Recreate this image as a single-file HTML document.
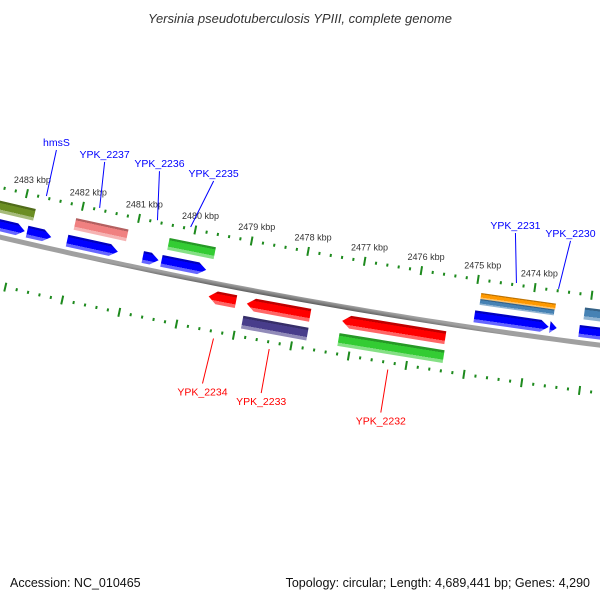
<!DOCTYPE html>
<html><head><meta charset="utf-8"><style>
html,body{margin:0;padding:0;background:#fff}
svg{display:block}
text{font-family:"Liberation Sans","DejaVu Sans",sans-serif}
</style></head><body>
<svg id="chart" width="600" height="600" viewBox="0 0 600 600" xmlns="http://www.w3.org/2000/svg">
<rect width="600" height="600" fill="#fff"/>
<defs id="defs"></defs>
<text x="300" y="23" text-anchor="middle" font-size="13" font-style="italic" fill="#333">Yersinia pseudotuberculosis YPIII, complete genome</text>
<g id="plot"></g>
<text x="10" y="587" font-size="12.5" fill="#111">Accession: NC_010465</text>
<text x="590" y="587" font-size="12.5" fill="#111" text-anchor="end">Topology: circular; Length: 4,689,441 bp; Genes: 4,290</text>
</svg>
<script>
// ---- data ----
const tickStartKbp = 2484;
const tickEndKbp = 2472;
const majorTickLabels = [2483,2482,2481,2480,2479,2478,2477,2476,2475,2474];
// features: start kbp (left/higher), end kbp (right/lower)
const featStart = [2483.63,2482.85,2482.14,2480.80,2480.47,2474.97,2473.65,2473.14, 2483.63,2482.07,2480.41,2474.91,2474.91,2473.09, 2479.55,2478.88,2477.21, 2478.90,2477.22];
const featEnd   = [2482.89,2482.42,2481.24,2480.52,2479.68,2473.67,2473.53,2472.50, 2482.79,2481.14,2479.59,2473.60,2473.61,2472.40, 2479.07,2477.77,2475.41, 2477.76,2475.39];
const featTrack = ['fb','fb','fb','fb','fb','fb','fb','fb', 'fc','fc','fc','fcTop','fcBot','fc', 'rr','rr','rr', 'rc','rc'];
const featArrow = ['R','R','R','R','R','R','R','R', 'N','N','N','N','N','N', 'L','L','L', 'N','N'];
const featColor = ['#0000ff','#0000ff','#0000ff','#0000ff','#0000ff','#0000ff','#0000ff','#0000ff','#6b8e23','#f08080','#33cc33','#ff9900','#4682b4','#4682b4','#ff0000','#ff0000','#ff0000','#483d8b','#33cc33'];
const labelText = ['hmsS','YPK_2237','YPK_2236','YPK_2235','YPK_2231','YPK_2230','YPK_2234','YPK_2233','YPK_2232'];
const labelKbp  = [2482.66,2481.71,2480.68,2480.09,2474.33,2473.59,2479.33,2478.36,2476.30];
const labelSide = ['up','up','up','up','up','up','down','down','down'];
// layout (pixels) for label leader lines
const labelDx = [10,5,2,23,-1,12,-11,-8,-7];
const labelDy = [-46,-46,-49,-46,-50,-48,45,44,43];

// ---- geometry ----
const CX=1334, CY=-5449, R=5840;
function theta(k){return (97.93+(k-2474)*0.568)*Math.PI/180;}
function pt(k,off){const r=R-off,a=theta(k);return [CX+r*Math.cos(a),CY+r*Math.sin(a)];}
const tracks={fb:[5,17],fc:[23,35],fcTop:[29,35],fcBot:[23,29],rr:[-21,-8],rc:[-40,-27]};
const NS='http://www.w3.org/2000/svg';
const plot=document.getElementById('plot');
const defs=document.getElementById('defs');
function mk(tag,attrs,parent){const e=document.createElementNS(NS,tag);for(const a in attrs)e.setAttribute(a,attrs[a]);(parent||plot).appendChild(e);return e;}
function P(p){return p[0].toFixed(2)+','+p[1].toFixed(2);}
function shade(hex,f){let n=parseInt(hex.slice(1),16);let r=n>>16,g=(n>>8)&255,b=n&255;
 if(f<0){r*=1+f;g*=1+f;b*=1+f;}else{r+=(255-r)*f;g+=(255-g)*f;b+=(255-b)*f;}
 return 'rgb('+Math.round(r)+','+Math.round(g)+','+Math.round(b)+')';}

// backbone
(function(){
 const top=[],bot=[];
 for(let k=tickStartKbp;k>=tickEndKbp;k-=0.25){top.push(P(pt(k,2)));bot.unshift(P(pt(k,-3)));}
 const g=mk('linearGradient',{id:'bbg',gradientUnits:'userSpaceOnUse',x1:pt(2478,2)[0],y1:pt(2478,2)[1],x2:pt(2478,-3)[0],y2:pt(2478,-3)[1]},defs);
 mk('stop',{offset:'0',  'stop-color':'#a0a0a0'},g);
 mk('stop',{offset:'0.5','stop-color':'#808080'},g);
 mk('stop',{offset:'1','stop-color':'#5a5a5a'},g);
 const bb=mk('polygon',{points:top.concat(bot).join(' '),fill:'url(#bbg)'});
 
 
})();

// tick rings
function ring(off,withLabels,name){
 const g=mk('g',{});
 
 
 for(let i=0;i<=(tickStartKbp-tickEndKbp)*5;i++){
  const k=tickStartKbp-i*0.2;
  const major=(i%5===0);
  const h=major?4.5:1.5;
  const a=pt(k,off-h),b=pt(k,off+h);
  const t=mk('line',{x1:a[0],y1:a[1],x2:b[0],y2:b[1],stroke:'#1d8a1d','stroke-width':2},g);
  
  
 }
 if(withLabels){
  majorTickLabels.forEach(k=>{
   const p=pt(k,off+11);
   const tx=mk('text',{x:p[0]+3,y:p[1],'text-anchor':'middle','font-size':'9',fill:'#333'},g);
   tx.textContent=k+' kbp';
   
   
  });
 }
}
ring(48,true,'outer-tick-ring');
ring(-48,false,'inner-tick-ring');

// features
const HEAD=0.14;
featStart.forEach((ks,i)=>{
 const ke=featEnd[i];
 const [o1,o2]=tracks[featTrack[i]];
 const om=(o1+o2)/2;
 let pts;
 const arr=featArrow[i];
 if(arr==='R'){
  const s=Math.min(ke+HEAD,ks);
  pts=[pt(ks,o2),pt(s,o2),pt(ke,om),pt(s,o1),pt(ks,o1)];
 }else if(arr==='L'){
  const s=Math.max(ks-HEAD,ke);
  pts=[pt(ks,om),pt(s,o2),pt(ke,o2),pt(ke,o1),pt(s,o1)];
 }else{
  pts=[pt(ks,o2),pt(ke,o2),pt(ke,o1),pt(ks,o1)];
 }
 const km=(ks+ke)/2,a=pt(km,o2),b=pt(km,o1);
 const id='fg'+i;
 const g=mk('linearGradient',{id:id,gradientUnits:'userSpaceOnUse',x1:a[0],y1:a[1],x2:b[0],y2:b[1]},defs);
 const c=featColor[i];
 [['0',shade(c,-0.25)],['0.18',shade(c,-0.25)],['0.18',c],['0.72',c],['0.72',shade(c,0.4)],['1',shade(c,0.4)]].forEach(s=>mk('stop',{offset:s[0],'stop-color':s[1]},g));
 const f=mk('polygon',{points:pts.map(P).join(' '),fill:'url(#'+id+')'});
 
 
});

// labels
labelText.forEach((t,i)=>{
 const up=labelSide[i]==='up';
 const e=pt(labelKbp[i],up?50:-55);
 const sx=e[0]+labelDx[i],sy=e[1]+labelDy[i];
 const col=up?'#0000ff':'#ff0000';
 const ln=mk('line',{x1:e[0],y1:e[1],x2:sx,y2:sy,stroke:col,'stroke-width':1});
 
 
 const tx=mk('text',{x:sx,y:up?sy-4:sy+12,'text-anchor':'middle','font-size':'10.5',fill:col});
 tx.textContent=t;
 
 
});
</script>
</body></html>
